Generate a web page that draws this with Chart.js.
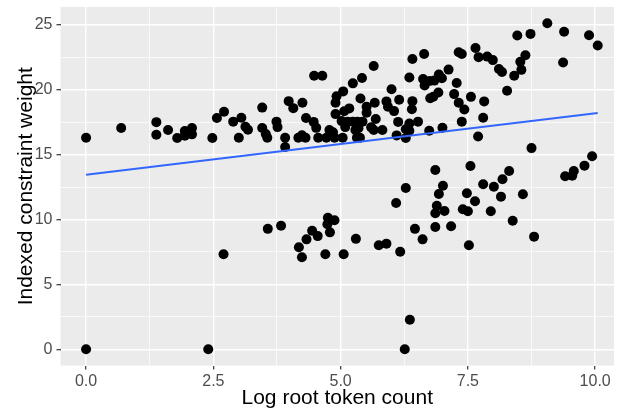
<!DOCTYPE html>
<html>
<head>
<meta charset="utf-8">
<script src="https://cdn.jsdelivr.net/npm/chart.js@4.4.0/dist/chart.umd.min.js"></script>
<style>
  html, body { margin: 0; padding: 0; background: #ffffff; }
  #wrap { width: 619px; height: 414px; }
</style>
</head>
<body>
<div id="wrap"><canvas id="c" width="619" height="414"></canvas></div>
<script>
// Log root token count (x) and indexed constraint weight (y)
const pointX = [
  0, 0.69, 1.38, 1.38, 1.61, 1.79, 1.94, 1.94, 2.08, 2.08,
  2.48, 2.57, 2.71, 2.89, 3.05, 3.0, 3.13, 3.18, 3.46, 3.46,
  3.53, 3.56, 3.74, 3.76, 3.91, 3.91, 3.98, 4.07, 4.25, 4.17,
  4.24, 4.31, 4.32, 4.48, 4.64, 4.47, 4.52, 4.56, 4.72, 4.78,
  4.85, 4.88, 4.92, 4.90, 4.90, 5.05, 5.07, 5.17, 5.02, 5.04,
  5.09, 5.24, 5.42, 5.39, 5.65, 5.14, 5.24, 5.33, 5.43, 5.35,
  5.29, 5.32, 5.38, 5.51, 5.51, 5.60, 5.65, 5.67, 5.69, 5.82,
  5.90, 5.93, 6.00, 6.05, 6.15, 6.13, 6.10, 6.28, 6.28, 6.35,
  6.35, 6.41, 6.64, 6.35, 6.41, 6.40, 6.52, 6.74, 6.62, 6.65,
  6.75, 6.84, 6.93, 6.99, 7.12, 6.76, 6.82, 6.92, 7.00, 7.28,
  7.23, 7.32, 7.43, 7.56, 7.82, 7.80, 7.38, 7.32, 7.38, 7.65,
  7.71, 7.88, 7.99, 8.11, 8.17, 8.41, 8.27, 8.47, 8.73, 9.06,
  9.39, 9.88, 10.05, 9.37, 8.63, 8.53, 8.55, 7.70, 8.75,
  0, 2.40, 6.26, 6.36, 2.70, 3.57, 3.83, 4.18, 4.24, 4.33,
  4.44, 4.55, 4.75, 4.74, 4.88, 4.79, 4.70, 5.06, 5.30, 5.75,
  5.90, 6.17, 6.09, 6.28, 6.46, 6.61, 6.86, 7.55, 7.01, 6.93,
  6.89, 6.86, 7.04, 6.86, 7.17, 7.52, 7.48, 7.64, 7.40, 7.50,
  7.80, 8.01, 8.18, 8.31, 8.15, 7.95, 8.58, 8.38, 8.80, 9.41,
  9.55, 9.58, 9.79, 9.94
];
const pointY = [
  16.3, 17.05, 17.5, 16.53, 16.9, 16.28, 16.82, 16.46, 17.05, 16.56,
  16.28, 17.82, 18.3, 17.54, 17.84, 16.3, 17.15, 16.92, 18.62, 17.05,
  16.58, 16.3, 17.54, 17.12, 16.3, 15.58, 19.12, 18.58, 19.0, 16.3,
  16.49, 16.3, 17.82, 21.07, 21.07, 17.52, 17.06, 16.3, 16.3, 16.9,
  16.72, 16.3, 19.5, 19.0, 18.12, 19.87, 18.34, 18.56, 17.58, 16.3,
  17.12, 20.49, 20.9, 19.32, 21.82, 17.54, 17.54, 17.54, 17.54, 17.03,
  16.9, 16.3, 16.3, 18.69, 18.22, 17.1, 16.9, 19.0, 17.75, 16.9,
  19.1, 18.69, 20.03, 18.35, 19.22, 17.52, 16.48, 16.28, 16.95, 16.84,
  17.4, 22.37, 22.75, 20.94, 19.12, 18.49, 17.54, 16.84, 20.82, 20.33,
  20.67, 20.7, 21.17, 20.88, 21.55, 19.34, 19.46, 19.78, 17.07, 20.52,
  19.66, 19.0, 18.48, 19.45, 19.1, 17.84, 17.54, 22.88, 22.75, 23.21,
  22.51, 22.55, 22.28, 21.6, 21.36, 21.08, 19.92, 24.17, 24.3, 25.12,
  24.47, 24.2, 23.4, 22.09, 22.66, 22.16, 21.53, 16.4, 15.5,
  0, 0, 0, 2.28, 7.32, 9.28, 9.52, 7.86, 7.09, 8.47,
  9.14, 8.72, 10.14, 9.63, 9.94, 9.01, 7.32, 7.32, 8.51, 8.01,
  8.14, 7.52, 11.27, 12.43, 9.28, 8.47, 13.81, 14.12, 12.6, 11.96,
  11.06, 10.48, 10.65, 9.42, 9.48, 8.01, 12.02, 11.4, 10.79, 10.63,
  12.71, 12.53, 13.1, 13.74, 11.76, 10.63, 11.94, 9.91, 8.68, 13.33,
  13.37, 13.74, 14.15, 14.87
];
// Fitted linear trend endpoints
const fitX = [0, 10.05];
const fitY = [13.45, 18.2];
// Tick values
const xMajorTicks = [0, 2.5, 5, 7.5, 10];
const xMinorTicks = [1.25, 3.75, 6.25, 8.75];
const yMajorTicks = [0, 5, 10, 15, 20, 25];
const yMinorTicks = [2.5, 7.5, 12.5, 17.5, 22.5];

const xTitle = 'Log root token count';
const yTitle = 'Indexed constraint weight';

const FONT = "'Liberation Sans', Arial, Helvetica, sans-serif";

const scatterData = pointX.map((x, i) => ({ x: x, y: pointY[i] }));
const fitData = fitX.map((x, i) => ({ x: x, y: fitY[i] }));

const panelBg = {
  id: 'panelBg',
  beforeDraw(chart) {
    const a = chart.chartArea;
    const ctx = chart.ctx;
    ctx.save();
    ctx.fillStyle = '#EBEBEB';
    ctx.fillRect(a.left, a.top, a.right - a.left, a.bottom - a.top);
    ctx.restore();
  }
};

function isMajor(list, v) {
  return list.some(m => Math.abs(m - v) < 1e-9);
}

function gridOpts(majors) {
  return {
    color: ctx => '#FFFFFF',
    lineWidth: ctx => (ctx.tick && isMajor(majors, ctx.tick.value)) ? 1.4 : 0.7,
    tickColor: ctx => (ctx.tick && isMajor(majors, ctx.tick.value)) ? '#333333' : 'rgba(0,0,0,0)',
    tickWidth: 1.2,
    tickLength: 4,
    drawTicks: true,
    drawOnChartArea: true
  };
}

new Chart(document.getElementById('c'), {
  type: 'scatter',
  data: {
    datasets: [
      {
        type: 'line',
        data: fitData,
        borderColor: '#3366FF',
        borderWidth: 2,
        pointRadius: 0,
        fill: false,
        order: 0
      },
      {
        type: 'scatter',
        data: scatterData,
        backgroundColor: '#000000',
        borderWidth: 0,
        pointRadius: 5,
        pointHoverRadius: 5,
        order: 1
      }
    ]
  },
  plugins: [panelBg],
  options: {
    responsive: false,
    devicePixelRatio: 1,
    animation: false,
    events: [],
    layout: { padding: { top: 6.9, right: 0, bottom: 0, left: 0 } },
    plugins: {
      legend: { display: false },
      tooltip: { enabled: false },
      title: { display: false }
    },
    scales: {
      x: {
        type: 'linear',
        position: 'bottom',
        min: -0.5025,
        max: 10.37,
        border: { display: false },
        grid: gridOpts(xMajorTicks),
        ticks: {
          autoSkip: false,
          maxRotation: 0,
          padding: 2,
          color: '#4D4D4D',
          font: { family: FONT, size: 16 },
          callback: v => isMajor(xMajorTicks, v) ? Number(v).toFixed(1) : ''
        },
        title: {
          display: true,
          text: xTitle,
          color: '#000000',
          font: { family: FONT, size: 21 },
          padding: { top: 0, bottom: 3 }
        },
        afterBuildTicks: scale => {
          scale.ticks = xMajorTicks.concat(xMinorTicks).sort((a, b) => a - b).map(v => ({ value: v }));
        },
        afterFit: scale => {
          scale.height = 414 - 365.6;
          scale.paddingLeft = 0;
          scale.paddingRight = 0;
        }
      },
      y: {
        type: 'linear',
        position: 'left',
        min: -1.256,
        max: 26.38,
        border: { display: false },
        grid: gridOpts(yMajorTicks),
        ticks: {
          autoSkip: false,
          padding: 4,
          color: '#4D4D4D',
          font: { family: FONT, size: 16 },
          callback: v => isMajor(yMajorTicks, v) ? String(v) : ''
        },
        title: {
          display: true,
          text: yTitle,
          color: '#000000',
          font: { family: FONT, size: 21 },
          padding: { top: 14, bottom: 0 }
        },
        afterBuildTicks: scale => {
          scale.ticks = yMajorTicks.concat(yMinorTicks).sort((a, b) => a - b).map(v => ({ value: v }));
        },
        afterFit: scale => {
          scale.width = 60.5;
          scale.paddingTop = 0;
          scale.paddingBottom = 0;
        }
      }
    }
  }
});
</script>
</body>
</html>
